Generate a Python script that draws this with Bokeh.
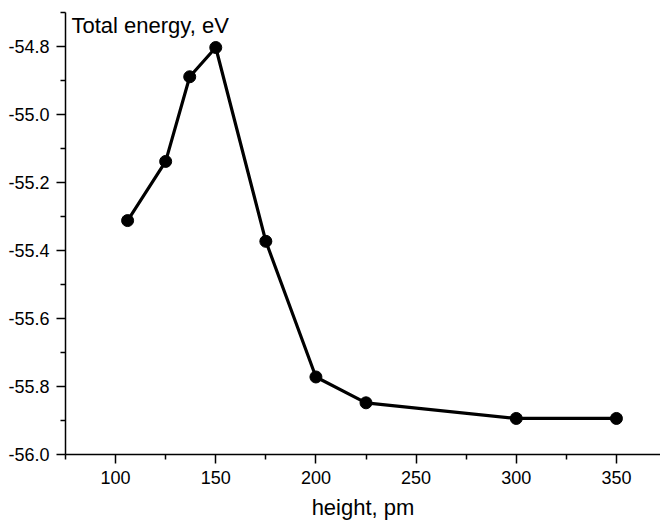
from bokeh.plotting import figure
from bokeh.models import FixedTicker, Label, Range1d
from bokeh.embed import file_html
from bokeh.resources import INLINE

height_pm = [106, 125, 137, 150, 175, 200, 225, 300, 350]
energy_ev = [-55.312, -55.138, -54.889, -54.803, -55.373, -55.772, -55.848, -55.894, -55.894]

x_ticks = [100, 150, 200, 250, 300, 350]
x_minor = [75, 125, 175, 225, 275, 325, 375]
y_ticks = [-56.0, -55.8, -55.6, -55.4, -55.2, -55.0, -54.8]
y_minor = [-55.9, -55.7, -55.5, -55.3, -55.1, -54.9, -54.7]

FONT = "Liberation Sans"

p = figure(width=660, height=523, output_backend="svg", toolbar_location=None,
           x_range=Range1d(75, 372), y_range=Range1d(-56.0, -54.7),
           min_border_left=65, min_border_right=0, min_border_top=12, min_border_bottom=69)
p.outline_line_color = None
p.grid.visible = False
p.background_fill_color = "white"
p.border_fill_color = "white"

p.line(height_pm, energy_ev, line_color="black", line_width=3.2)
p.scatter(height_pm, energy_ev, size=12, fill_color="black", line_color="black")

for ax in (p.xaxis[0], p.yaxis[0]):
    ax.axis_line_width = 1.5
    ax.axis_line_color = "black"
    ax.major_tick_line_width = 1.5
    ax.minor_tick_line_width = 1.5
    ax.major_tick_in = 0
    ax.major_tick_out = 9
    ax.minor_tick_in = 0
    ax.minor_tick_out = 5
    ax.major_label_text_font = FONT
    ax.major_label_text_font_size = "18px"
    ax.major_label_text_color = "black"

p.xaxis[0].major_label_standoff = 7
p.yaxis[0].major_label_standoff = 7

p.xaxis[0].ticker = FixedTicker(ticks=x_ticks, minor_ticks=x_minor)
p.yaxis[0].ticker = FixedTicker(ticks=y_ticks, minor_ticks=y_minor)
p.yaxis[0].major_label_overrides = {v: f"{v:.1f}" for v in y_ticks}

p.xaxis[0].axis_label = "height, pm"
p.xaxis[0].axis_label_text_font = FONT
p.xaxis[0].axis_label_text_font_size = "22px"
p.xaxis[0].axis_label_text_font_style = "normal"
p.xaxis[0].axis_label_text_color = "black"
p.xaxis[0].axis_label_standoff = 8

p.add_layout(Label(x=6, y=442, x_units="screen", y_units="screen",
                   text="Total energy, eV", text_font=FONT, text_font_size="22px",
                   text_color="black", text_baseline="top", text_align="left"))

open("out.html", "w").write(file_html(p, INLINE))
